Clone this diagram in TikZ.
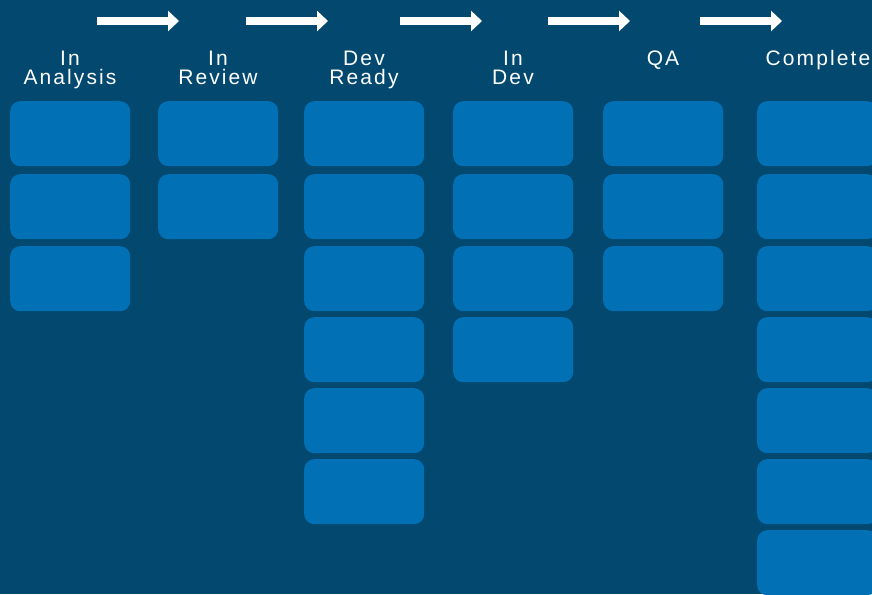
\documentclass[tikz,border=0pt]{standalone}
\usepackage{fontspec}
\setmainfont{Liberation Sans}[LetterSpace=10]
\usetikzlibrary{arrows.meta}
\definecolor{boardbg}{HTML}{03486F}
\definecolor{cardblue}{HTML}{0170B4}
\tikzset{
  card/.style={fill=cardblue, draw=none, rounded corners=10pt,
    minimum width=120pt, minimum height=65pt, inner sep=0pt, anchor=north west},
  flow/.style={draw=white, line width=7.5pt, -{Triangle[length=11pt,width=20pt]}},
  colhead/.style={text=white, font=\fontsize{21}{19}\selectfont, align=center,
    inner sep=0pt, anchor=base}
}
\begin{document}
\begin{tikzpicture}[x=1pt, y=-1pt]
\fill[boardbg] (0,0) rectangle (872,594);
\useasboundingbox (0,0) rectangle (872,594);
\clip (0,0) rectangle (872,594);

% flow arrows between stages
\foreach \i/\a/\b in {1/97/179, 2/246/328, 3/400/482, 4/548/630, 5/700/782} {
  \coordinate (s\i) at (\a,21);
  \coordinate (e\i) at (\b,21);
  \draw[flow] (s\i) -- (e\i);
}

% column headings (base anchor sits on the last line)
\node[colhead] (h1) at (70,84)  {In\\Analysis};
\node[colhead] (h2) at (218,84) {In\\Review};
\node[colhead] (h3) at (364,84) {Dev\\Ready};
\node[colhead] (h4) at (513,84) {In\\Dev};
\node[colhead] (h5) at (663,65) {QA};
\node[colhead] (h6) at (818,65) {Complete};

% cards, one column per stage
\foreach \c/\x/\n in {1/10/3, 2/158/2, 3/304/6, 4/453/4, 5/603/3, 6/757/7} {
  \foreach \r/\y in {1/101, 2/174, 3/246, 4/317, 5/388, 6/459, 7/530} {
    \ifnum\r>\n\relax\else
      \node[card] (c\c-\r) at (\x,\y) {};
    \fi
  }
}
\end{tikzpicture}
\end{document}
